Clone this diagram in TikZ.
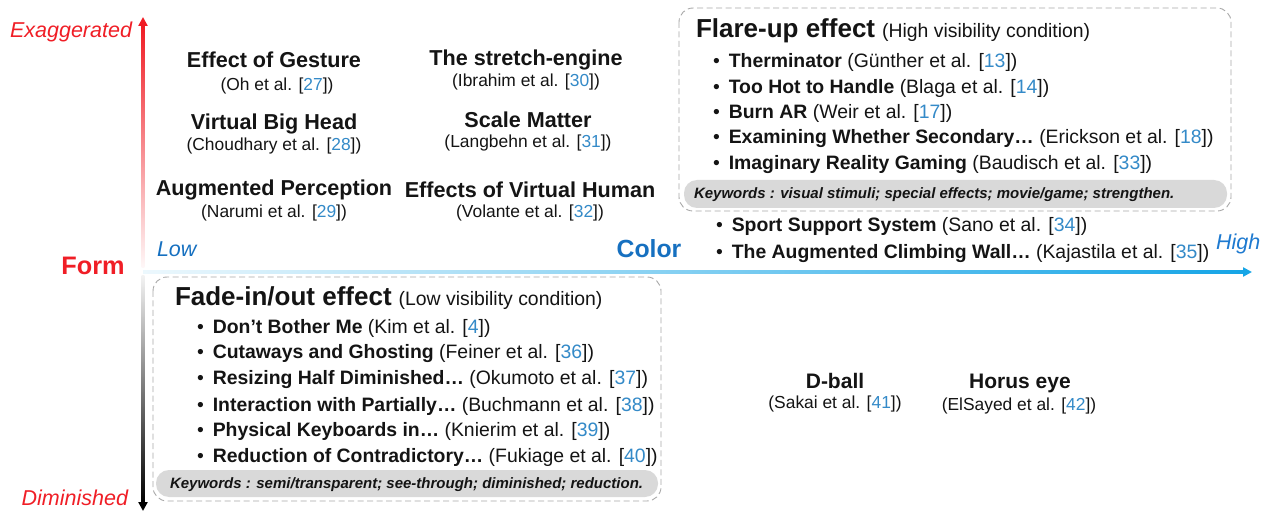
\documentclass[tikz,border=0pt]{standalone}
\usepackage{fontspec}
\setmainfont{Liberation Sans}
\usetikzlibrary{arrows.meta}
\definecolor{axred}{RGB}{240,28,36}
\definecolor{txtred}{RGB}{240,30,38}
\definecolor{lblblue}{RGB}{22,112,192}
\definecolor{hiblue}{RGB}{30,122,208}
\definecolor{citeblue}{RGB}{52,138,200}
\definecolor{axblue}{RGB}{22,165,230}
\definecolor{boxgray}{RGB}{168,168,168}
\definecolor{kwgray}{RGB}{217,217,217}
\newcommand{\rf}[1]{[\textcolor{citeblue}{#1}]}
\newcommand{\bul}{\textbullet\hspace{9pt}}
\begin{document}
\begin{tikzpicture}[x=1pt,y=-1pt,
  every node/.style={inner sep=0pt,outer sep=0pt,text=black!92},
  ttl/.style={font=\fontsize{21.6}{24}\selectfont\bfseries},
  sub/.style={font=\fontsize{17.4}{20}\selectfont},
  itm/.style={anchor=west,font=\fontsize{19.4}{22}\selectfont},
  kw/.style={anchor=west,font=\fontsize{15}{18}\selectfont\bfseries\itshape},
  frame/.style={draw=boxgray,dash pattern=on 6pt off 3.5pt,line width=0.9pt,rounded corners=14pt},
  kwbar/.style={fill=kwgray,rounded corners=13pt},
  axlbl/.style={font=\fontsize{21.5}{24}\selectfont\itshape},
  axtip/.style={-{Triangle[length=9pt,width=9pt]},line width=2.8pt}]
\fill[white] (0,0) rectangle (1270,513);
\useasboundingbox (0,0) rectangle (1270,513);

% axes
\coordinate (vtop) at (143,17);
\coordinate (vbot) at (143,511);
\coordinate (hr) at (1252,272);
\shade[top color=axred, bottom color=axred!3] (141.6,25) rectangle (144.4,268);
\shade[top color=black!5, bottom color=black] (141.6,276) rectangle (144.4,503);
\draw[axtip,axred] (143,28) -- (vtop);
\draw[axtip,black] (143,500) -- (vbot);
\shade[left color=axblue!8,right color=axblue] (143,270.6) rectangle (1243,273.4);
\draw[axtip,axblue] (1240,272) -- (hr);

% axis labels
\node[axlbl,text=txtred,anchor=east] (exa) at (132,32) {Exaggerated};
\node[font=\fontsize{25.3}{28}\selectfont\bfseries,text=txtred] (form) at (93,266) {Form};
\node[axlbl,text=txtred,anchor=east] (dim) at (128,498) {Diminished};
\node[axlbl,text=lblblue,anchor=west] (low) at (157,249) {Low};
\node[font=\fontsize{24.8}{28}\selectfont\bfseries,text=lblblue] (color) at (649,249) {Color};
\node[axlbl,text=hiblue,anchor=west] (high) at (1216,244) {High};

% exaggerated form items
\node[ttl] (g1) at (274,60) {Effect of Gesture};
\node[sub] (g1c) at (277,86.5) {(Oh et al. \rf{27})};
\node[ttl] (g2) at (274,124) {Virtual Big Head};
\node[sub] (g2c) at (274,146.5) {(Choudhary et al. \rf{28})};
\node[ttl] (g3) at (274,190) {Augmented Perception};
\node[sub] (g3c) at (274,213.5) {(Narumi et al. \rf{29})};
\node[ttl] (g4) at (526,60) {The stretch-engine};
\node[sub] (g4c) at (526,82.5) {(Ibrahim et al. \rf{30})};
\node[ttl] (g5) at (528,120) {Scale Matter};
\node[sub] (g5c) at (528,143.5) {(Langbehn et al. \rf{31})};
\node[ttl] (g6) at (530,190) {Effects of Virtual Human};
\node[sub] (g6c) at (530,213.5) {(Volante et al. \rf{32})};

% flare-up box
\draw[frame] (679,8) rectangle (1231,211);
\fill[kwbar] (684,180) rectangle (1227,208);
\node[anchor=west] (fh) at (696,30.5) {{\fontsize{26}{30}\selectfont\bfseries Flare-up effect}\hspace{7pt}{\fontsize{19.4}{22}\selectfont(High visibility condition)}};
\node[itm] (f1) at (713,62) {\bul\textbf{Therminator} (Günther et al. \rf{13})};
\node[itm] (f2) at (713,88) {\bul\textbf{Too Hot to Handle} (Blaga et al. \rf{14})};
\node[itm] (f3) at (713,113) {\bul\textbf{Burn AR} (Weir et al. \rf{17})};
\node[itm] (f4) at (713,139) {\bul\textbf{Examining Whether Secondary…} (Erickson et al. \rf{18})};
\node[itm] (f5) at (713,165) {\bul\textbf{Imaginary Reality Gaming} (Baudisch et al. \rf{33})};
\node[kw] (fk) at (694,194.5) {Keywords : visual stimuli; special effects; movie/game; strengthen.};

\node[itm] (s1) at (716,226) {\bul\textbf{Sport Support System} (Sano et al. \rf{34})};
\node[itm] (s2) at (716,254) {\bul\textbf{The Augmented Climbing Wall…} (Kajastila et al. \rf{35})};

% fade-in box
\draw[frame] (153,277) rectangle (661,501);
\fill[kwbar] (156,470) rectangle (658,497);
\node[anchor=west] (dh) at (175,298.5) {{\fontsize{26}{30}\selectfont\bfseries Fade-in/out effect}\hspace{7pt}{\fontsize{19.4}{22}\selectfont(Low visibility condition)}};
\node[itm] (d1) at (197,328) {\bul\textbf{Don’t Bother Me} (Kim et al. \rf{4})};
\node[itm] (d2) at (197,354) {\bul\textbf{Cutaways and Ghosting} (Feiner et al. \rf{36})};
\node[itm] (d3) at (197,380) {\bul\textbf{Resizing Half Diminished…} (Okumoto et al. \rf{37})};
\node[itm] (d4) at (197,406) {\bul\textbf{Interaction with Partially…} (Buchmann et al. \rf{38})};
\node[itm] (d5) at (197,431) {\bul\textbf{Physical Keyboards in…} (Knierim et al. \rf{39})};
\node[itm] (d6) at (197,457) {\bul\textbf{Reduction of Contradictory…} (Fukiage et al. \rf{40})};
\node[kw] (dk) at (170,484.5) {Keywords : semi/transparent; see-through; diminished; reduction.};

% diminished color items
\node[font=\fontsize{21}{24}\selectfont\bfseries] (b1) at (835,381) {D-ball};
\node[sub] (b1c) at (835,404.5) {(Sakai et al. \rf{41})};
\node[font=\fontsize{21}{24}\selectfont\bfseries] (b2) at (1020,383) {Horus eye};
\node[sub] (b2c) at (1019,406.5) {(ElSayed et al. \rf{42})};
\end{tikzpicture}
\end{document}
